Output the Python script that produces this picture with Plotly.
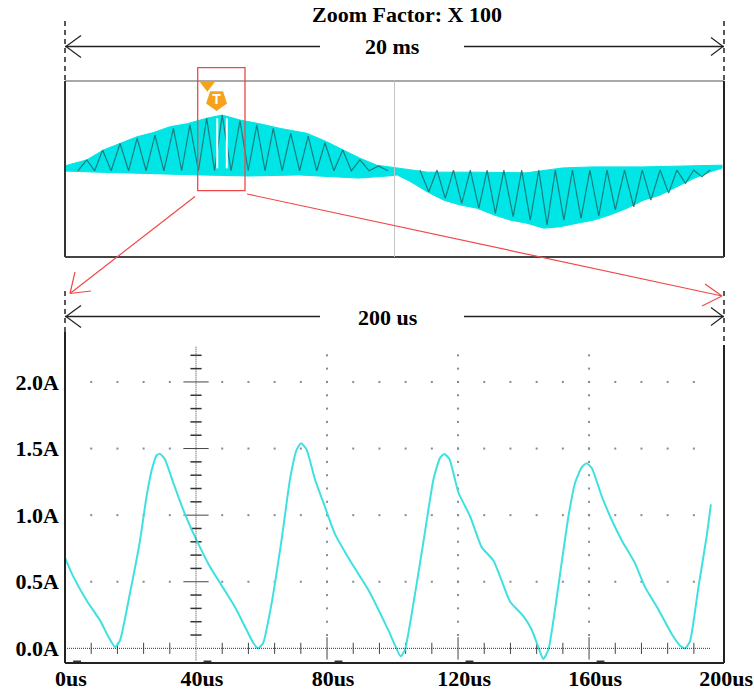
import numpy as np
import plotly.graph_objects as go

W, H = 754, 700

# ---------------- zoomed window: 200 us of load current ----------------
zoom_t_us = [0, 2.5, 6.6, 10.7, 13.2, 15.3, 16.8, 19.8, 22.9, 24.9, 26.5, 28.0, 29.0, 30.5,
             33.1, 36.1, 38.7, 41.2, 44.3, 48.9, 51.9, 55.0, 57.5, 59.0, 60.5, 63.1, 66.1,
             68.7, 70.7, 72.1, 73.8, 76.3, 79.4, 82.4, 87.5, 92.6, 96.7, 99.2, 100.8, 102.5,
             103.8, 106.4, 109.5, 112.5, 114.5, 115.8, 117.4, 120.1, 123.7, 127.2, 130.8,
             133.3, 135.9, 140.0, 142.5, 144.5, 146.0, 147.6, 149.6, 151.1, 153.7, 155.7,
             157.8, 159.3, 160.9, 163.9, 167.0, 170.0, 174.0, 177.1, 181.2, 185.2, 187.8,
             189.3, 190.8, 193.4, 195.9, 197.2]
zoom_i_a = [0.68, 0.54, 0.36, 0.21, 0.09, 0.01, 0.06, 0.41, 0.81, 1.14, 1.34, 1.45, 1.46, 1.42,
            1.24, 1.04, 0.89, 0.76, 0.61, 0.43, 0.31, 0.16, 0.04, 0.0, 0.04, 0.34, 0.81,
            1.27, 1.49, 1.54, 1.49, 1.27, 1.06, 0.86, 0.64, 0.44, 0.24, 0.11, 0.02, -0.06,
            -0.01, 0.34, 0.81, 1.27, 1.43, 1.46, 1.42, 1.17, 0.99, 0.76, 0.66,
            0.51, 0.35, 0.24, 0.14, 0.01, -0.08, -0.01, 0.29, 0.55, 0.99, 1.24,
            1.36, 1.39, 1.35, 1.14, 0.96, 0.81, 0.64, 0.46, 0.29, 0.11, 0.02,
            0.0, 0.05, 0.46, 0.84, 1.08]

x_ticks_us = [0, 40, 80, 120, 160, 200]
x_tick_text = ["0us", "40us", "80us", "120us", "160us", "200us"]
y_ticks_a = [0.0, 0.5, 1.0, 1.5, 2.0]
y_tick_text = ["0.0A", "0.5A", "1.0A", "1.5A", "2.0A"]

# ---------------- overview: one 20 ms mains cycle ----------------
env_hi_t_ms = [0, 0.66, 1.16, 1.67, 2.18, 2.68, 3.19, 3.69, 4.30, 4.77, 5.31, 5.92, 6.53, 7.34,
               7.94, 8.45, 8.95, 9.46, 10.07, 10.5, 11.0, 12.5, 14.0, 15.1, 16.0, 17.5, 19.0, 19.94]
env_hi_a = [0.09, 0.26, 0.54, 0.73, 0.92, 1.04, 1.21, 1.29, 1.45, 1.54, 1.40, 1.29, 1.16, 1.02,
            0.78, 0.54, 0.31, 0.11, 0.03, -0.03, -0.09, -0.09, -0.11, 0.03, 0.06, 0.06, 0.09, 0.11]
env_lo_t_ms = [0, 1.0, 2.6, 4.1, 5.6, 7.1, 8.9, 9.8, 10.08, 10.48, 10.99, 11.49, 12.0, 12.5,
               13.01, 13.51, 14.02, 14.53, 15.03, 15.54, 16.05, 16.55, 17.06, 17.56, 18.07,
               18.57, 19.08, 19.58, 19.94]
env_lo_a = [-0.06, -0.09, -0.14, -0.17, -0.20, -0.17, -0.26, -0.20, -0.17, -0.36, -0.65, -0.89,
            -1.03, -1.12, -1.31, -1.46, -1.55, -1.69, -1.65, -1.55, -1.46, -1.31, -1.12, -0.89,
            -0.74, -0.51, -0.27, -0.08, 0.02]

# aliased switching ripple visible in the overview
pos_apex_t_ms = [0.66, 1.14, 1.67, 2.19, 2.73, 3.29, 3.79, 4.30, 4.77, 5.31, 5.82, 6.32, 6.85,
                 7.38, 7.89, 8.43, 8.95, 9.51]
pos_apex_a = [0.26, 0.54, 0.73, 0.88, 0.97, 1.16, 1.26, 1.45, 1.54, 1.38, 1.26, 1.16, 1.02,
              0.94, 0.75, 0.54, 0.26, 0.09]
pos_valley_t_ms = [0.39, 0.90, 1.40, 1.93, 2.46, 3.00, 3.54, 4.05, 4.54, 5.04, 5.56, 6.07, 6.59,
                   7.12, 7.64, 8.16, 8.69, 9.23, 9.80]
pos_valley_a = [-0.05] * 19
neg_valley_t_ms = [11.04, 11.54, 12.04, 12.56, 13.06, 13.60, 14.12, 14.63, 15.14, 15.66, 16.20,
                   16.70, 17.26, 17.78, 18.32, 18.83, 19.33]
neg_valley_a = [-0.65, -0.84, -0.98, -1.12, -1.27, -1.36, -1.46, -1.60, -1.46, -1.41, -1.34,
                -1.17, -1.08, -0.89, -0.69, -0.41, -0.22]
neg_apex_t_ms = [10.77, 11.29, 11.79, 12.30, 12.81, 13.32, 13.86, 14.38, 14.88, 15.40, 15.93,
                 16.45, 16.98, 17.52, 18.06, 18.57, 19.08, 19.58]
neg_apex_a = [-0.03] * 18

trigger_t_ms = 4.60
trigger_gap_t_ms = [4.62, 4.91]

# ---------------- geometry ----------------
L, R = 65, 724              # left / right frame edge (px)
B_TOP, B_BOT = 332, 663     # zoomed plot area
T_TOP, T_BOT = 81, 257      # overview box

def px(x):
    return x / W

def py(y):
    return 1 - y / H

X_RANGE = [0, 201.2]
Y_RANGE = [-0.11, 2.375]
T_RANGE = [0, 20]
A_RANGE = [-2.514, 2.514]

CYAN = "#3fe0e0"
FILL = "#00e5e5"
DARK = "#222222"
RED = "#f04848"
ORANGE = "#f7a21c"
FONT = "Liberation Serif"
FSIZE = 22

fig = go.Figure()

# ---------------- overview traces ----------------
band_x = list(env_hi_t_ms) + list(env_lo_t_ms[::-1])
band_y = list(env_hi_a) + list(env_lo_a[::-1])
fig.add_trace(go.Scatter(x=band_x, y=band_y, fill="toself", fillcolor=FILL, mode="lines",
                         line=dict(color=FILL, width=1), xaxis="x2", yaxis="y2",
                         hoverinfo="skip"))

def zigzag(t_a, a_a, t_b, a_b):
    pts = sorted(zip(list(t_a) + list(t_b), list(a_a) + list(a_b)))
    return [p[0] for p in pts], [p[1] for p in pts]

zx, zy = zigzag(pos_apex_t_ms, pos_apex_a, pos_valley_t_ms, pos_valley_a)
fig.add_trace(go.Scatter(x=zx, y=zy, mode="lines", line=dict(color="#1c6e6e", width=1.2),
                         opacity=0.85, xaxis="x2", yaxis="y2", hoverinfo="skip"))
zx, zy = zigzag(neg_apex_t_ms, neg_apex_a, neg_valley_t_ms, neg_valley_a)
fig.add_trace(go.Scatter(x=zx, y=zy, mode="lines", line=dict(color="#1c6e6e", width=1.2),
                         opacity=0.85, xaxis="x2", yaxis="y2", hoverinfo="skip"))

# trigger markers
fig.add_trace(go.Scatter(x=[trigger_t_ms - 0.28], y=[A_RANGE[1] - 0.12], mode="markers",
                         marker=dict(symbol="triangle-down", size=13, color=ORANGE),
                         xaxis="x2", yaxis="y2", cliponaxis=False, hoverinfo="skip"))
fig.add_trace(go.Scatter(x=[trigger_t_ms], y=[1.97], mode="markers+text", text=["<b>T</b>"],
                         textfont=dict(color="white", size=14, family="Liberation Sans"),
                         textposition="middle center",
                         marker=dict(symbol="pentagon", angle=180, size=22, color=ORANGE),
                         xaxis="x2", yaxis="y2", cliponaxis=False, hoverinfo="skip"))

# ---------------- zoomed window: grid ----------------
minor_t = np.arange(8, 193, 8)
rows = np.arange(0.5, 2.01, 0.5)
cols = [80, 120, 160]
col_a = np.round(np.arange(0.1, 2.21, 0.1), 2)
dot_x, dot_y = [], []
for r in rows:
    for t in minor_t:
        if t != 40:
            dot_x.append(t); dot_y.append(r)
for c in cols:
    for a in col_a:
        dot_x.append(c); dot_y.append(a)
fig.add_trace(go.Scatter(x=dot_x, y=dot_y, mode="markers",
                         marker=dict(symbol="square", size=2, color="#8a8a8a"),
                         hoverinfo="skip"))

# zero-line ticks
tk_minor = [t for t in minor_t if t % 40 != 0]
tk_major = [t for t in minor_t if t % 40 == 0 and t != 40]
fig.add_trace(go.Scatter(x=tk_minor, y=[0] * len(tk_minor), mode="markers",
                         marker=dict(symbol="line-ns", size=8, line=dict(color="#444", width=1)),
                         hoverinfo="skip"))
fig.add_trace(go.Scatter(x=tk_major, y=[0] * len(tk_major), mode="markers",
                         marker=dict(symbol="line-ns", size=16, line=dict(color="#444", width=1)),
                         hoverinfo="skip"))
# centre axis ticks
ax_minor = [a for a in col_a if abs(a / 0.5 - round(a / 0.5)) > 1e-6]
ax_major = [a for a in col_a if abs(a / 0.5 - round(a / 0.5)) <= 1e-6]
fig.add_trace(go.Scatter(x=[40] * len(ax_minor), y=ax_minor, mode="markers",
                         marker=dict(symbol="line-ew", size=8, line=dict(color="#333", width=1.5)),
                         hoverinfo="skip"))
fig.add_trace(go.Scatter(x=[40] * len(ax_major), y=ax_major, mode="markers",
                         marker=dict(symbol="line-ew", size=18, line=dict(color="#444", width=1)),
                         hoverinfo="skip"))

# ---------------- zoomed window: waveform ----------------
fig.add_trace(go.Scatter(x=zoom_t_us, y=zoom_i_a, mode="lines",
                         line=dict(color=CYAN, width=2, shape="spline", smoothing=0.5),
                         hoverinfo="skip"))

# ---------------- shapes ----------------
shapes = []

def seg(x0, y0, x1, y1, color=DARK, width=1.5, dash="solid"):
    shapes.append(dict(type="line", xref="paper", yref="paper",
                       x0=px(x0), y0=py(y0), x1=px(x1), y1=py(y1),
                       line=dict(color=color, width=width, dash=dash)))

# overview box
seg(L, T_TOP, R, T_TOP, "#8c8c8c", 1.5)
seg(L, T_TOP, L, T_BOT, "#333333", 2)
seg(R, T_TOP, R, T_BOT, "#222222", 2)
seg(L, T_BOT, R, T_BOT, "#444444", 2)
shapes.append(dict(type="line", xref="x2", yref="paper", x0=10, x1=10,
                   y0=py(T_BOT), y1=py(T_TOP), line=dict(color="#c4c4c4", width=1)))
for tg in trigger_gap_t_ms:
    shapes.append(dict(type="line", xref="x2", yref="y2", x0=tg, x1=tg, y0=0.02, y1=1.45,
                       line=dict(color="white", width=2)))

# zoomed frame
seg(L, B_TOP, L, B_BOT, DARK, 2)
seg(R, 345, R, B_BOT, DARK, 2)
seg(L, B_BOT, R, B_BOT, DARK, 2)
shapes.append(dict(type="line", xref="x", yref="y", x0=0, x1=197, y0=0, y1=0,
                   line=dict(color="#333333", width=1, dash="1px,1px")))
shapes.append(dict(type="line", xref="x", yref="y", x0=40, x1=40, y0=-0.09, y1=2.27,
                   line=dict(color="#444444", width=1, dash="1px,1px")))

# span arrows (20 ms and 200 us)
for yy, dash_top, dash_bot_l, dash_bot_r in [(46.5, 21, 80, 80), (316.5, 291, 332, 345)]:
    seg(L, dash_top, L, dash_bot_l, DARK, 1.5, "5px,4px")
    seg(R, dash_top, R, dash_bot_r, DARK, 1.5, "5px,4px")
    seg(L, yy, 320, yy, DARK, 1.5)
    seg(464, yy, R, yy, DARK, 1.5)
    seg(L + 1, yy, L + 16, yy - 11, DARK, 1.2)
    seg(L + 1, yy, L + 16, yy + 11, DARK, 1.2)
    seg(R - 1, yy, R - 13, yy - 9, DARK, 1.2)
    seg(R - 1, yy, R - 13, yy + 9, DARK, 1.2)

# zoom window marker and red guide arrows
shapes.append(dict(type="rect", xref="paper", yref="paper", x0=px(197.7), x1=px(245),
                   y0=py(190.7), y1=py(67.7), line=dict(color=RED, width=1.3)))
seg(195, 196.5, 70, 293.5, RED, 1.2)
seg(70, 293.5, 75, 272, RED, 1.2)
seg(70, 293.5, 91, 291, RED, 1.2)
seg(247, 194, 722, 296, RED, 1.2)
seg(722, 296, 705, 284, RED, 1.2)
seg(722, 296, 702, 306, RED, 1.2)

# small markers on the lower frame
for tm in [3.7, 43.5, 83.5, 123.5, 163.5]:
    shapes.append(dict(type="line", xref="x", yref="y", x0=tm - 1.2, x1=tm + 1.2,
                       y0=-0.097, y1=-0.097, line=dict(color="#333", width=1.5)))

annotations = [
    dict(text="<b>Zoom Factor: X 100</b>", x=px(407), y=py(14)),
    dict(text="<b>20 ms</b>", x=px(392), y=py(46)),
    dict(text="<b>200 us</b>", x=px(388), y=py(317)),
]
for a in annotations:
    a.update(xref="paper", yref="paper", showarrow=False, xanchor="center", yanchor="middle",
             font=dict(family=FONT, size=FSIZE, color="black"))

tick_font = dict(family=FONT, size=FSIZE, color="black", weight="bold")

fig.update_layout(
    width=W, height=H, autosize=False, margin=dict(l=0, r=0, t=0, b=0, autoexpand=False),
    paper_bgcolor="white", plot_bgcolor="white", showlegend=False,
    shapes=shapes, annotations=annotations,
    xaxis=dict(domain=[px(L), px(R)], range=X_RANGE, anchor="y", showgrid=False,
               zeroline=False, showline=False, ticks="", tickvals=x_ticks_us,
               ticktext=x_tick_text, tickfont=tick_font, ticklabelshift=6, automargin=False),
    yaxis=dict(domain=[py(B_BOT), py(B_TOP)], range=Y_RANGE, anchor="x", showgrid=False,
               zeroline=False, showline=False, ticks="", tickvals=y_ticks_a,
               ticktext=y_tick_text, tickfont=tick_font, ticklabelstandoff=5,
               automargin=False),
    xaxis2=dict(domain=[px(L), px(R)], range=T_RANGE, anchor="y2", visible=False),
    yaxis2=dict(domain=[py(T_BOT), py(T_TOP)], range=A_RANGE, anchor="x2", visible=False),
)

fig.write_html("out.html", config={"responsive": False})
